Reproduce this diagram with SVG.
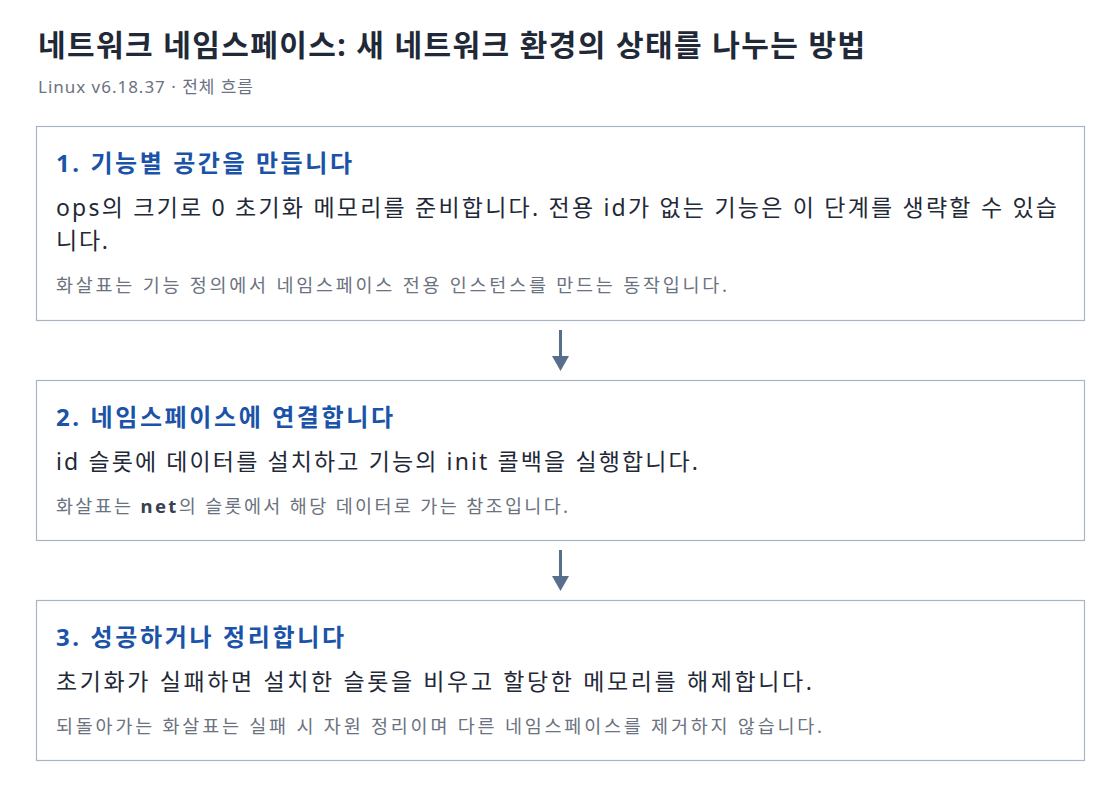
<svg xmlns="http://www.w3.org/2000/svg" width="1120" height="788" viewBox="0 0 1120 788">
<style>
text{font-family:"Noto Sans","Noto Sans CJK KR",sans-serif}
.title{font-size:30px;font-weight:700;fill:#1f2937}
.sub{font-size:17px;fill:#6b7280}
.box{fill:#ffffff;stroke:#aab5c4;stroke-width:1.2}
.h{font-size:24px;font-weight:700;fill:#1a53a8}
.b{font-size:23px;fill:#1f2937}
.n{font-size:18.5px;fill:#6b7280}
.n tspan.k{font-weight:700;fill:#374151}
.conn{stroke:#566f8c;stroke-width:3;fill:none}
.head{fill:#566f8c}
</style>
<rect width="1120" height="788" fill="#ffffff"/>
<text class="title" x="38" y="56" textLength="827" lengthAdjust="spacing">네트워크 네임스페이스: 새 네트워크 환경의 상태를 나누는 방법</text>
<text class="sub" x="38" y="93" textLength="215" lengthAdjust="spacing">Linux v6.18.37 · 전체 흐름</text>
<g id="connectors">
<line class="conn" x1="560.5" y1="330" x2="560.5" y2="358"/>
<polygon class="head" points="552,356 569,356 560.5,371"/>
<line class="conn" x1="560.5" y1="550" x2="560.5" y2="578"/>
<polygon class="head" points="552,576 569,576 560.5,591"/>
</g>
<g id="node1">
<rect class="box" x="36.5" y="126.5" width="1048" height="194"/>
<text class="h" x="56" y="172" textLength="296" lengthAdjust="spacing">1. 기능별 공간을 만듭니다</text>
<text class="b" x="56" y="216" textLength="1001" lengthAdjust="spacing">ops의 크기로 0 초기화 메모리를 준비합니다. 전용 id가 없는 기능은 이 단계를 생략할 수 있습</text>
<text class="b" x="56" y="249" textLength="52" lengthAdjust="spacing">니다.</text>
<text class="n" x="56" y="292" textLength="671" lengthAdjust="spacing">화살표는 기능 정의에서 네임스페이스 전용 인스턴스를 만드는 동작입니다.</text>
</g>
<g id="node2">
<rect class="box" x="36.5" y="380.5" width="1048" height="160"/>
<text class="h" x="56" y="426" textLength="337" lengthAdjust="spacing">2. 네임스페이스에 연결합니다</text>
<text class="b" x="56" y="470" textLength="642" lengthAdjust="spacing">id 슬롯에 데이터를 설치하고 기능의 init 콜백을 실행합니다.</text>
<text class="n" x="56" y="513" textLength="512" lengthAdjust="spacing">화살표는 <tspan class="k">net</tspan>의 슬롯에서 해당 데이터로 가는 참조입니다.</text>
</g>
<g id="node3">
<rect class="box" x="36.5" y="600.5" width="1048" height="160"/>
<text class="h" x="56" y="646" textLength="288" lengthAdjust="spacing">3. 성공하거나 정리합니다</text>
<text class="b" x="56" y="690" textLength="756" lengthAdjust="spacing">초기화가 실패하면 설치한 슬롯을 비우고 할당한 메모리를 해제합니다.</text>
<text class="n" x="56" y="733" textLength="766" lengthAdjust="spacing">되돌아가는 화살표는 실패 시 자원 정리이며 다른 네임스페이스를 제거하지 않습니다.</text>
</g>
</svg>
